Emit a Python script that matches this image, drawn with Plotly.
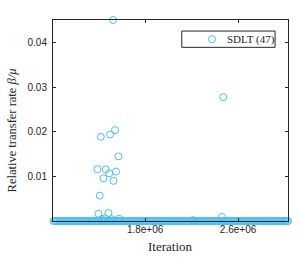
import plotly.graph_objects as go

series_name = "SDLT (47)"

# Baseline samples (iterations, in thousands) where the relative transfer rate is ~0
baseline_iter_k = [1010, 1022.5, 1035, 1047.5, 1060, 1072.5, 1085, 1097.5, 1110, 1122.5,
                   1135, 1147.5, 1160, 1172.5, 1185, 1197.5, 1210, 1222.5, 1235, 1247.5,
                   1260, 1272.5, 1285, 1297.5, 1310, 1322.5, 1335, 1347.5, 1360, 1372.5,
                   1385, 1397.5, 1410, 1422.5, 1435, 1447.5, 1460, 1472.5, 1485, 1497.5,
                   1510, 1522.5, 1535, 1547.5, 1560, 1572.5, 1585, 1597.5, 1610, 1622.5,
                   1635, 1647.5, 1660, 1672.5, 1685, 1697.5, 1710, 1722.5, 1735, 1747.5,
                   1760, 1772.5, 1785, 1797.5, 1810, 1822.5, 1835, 1847.5, 1860, 1872.5,
                   1885, 1897.5, 1910, 1922.5, 1935, 1947.5, 1960, 1972.5, 1985, 1997.5,
                   2010, 2022.5, 2035, 2047.5, 2060, 2072.5, 2085, 2097.5, 2110, 2122.5,
                   2135, 2147.5, 2160, 2172.5, 2185, 2197.5, 2210, 2222.5, 2235, 2247.5,
                   2260, 2272.5, 2285, 2297.5, 2310, 2322.5, 2335, 2347.5, 2360, 2372.5,
                   2385, 2397.5, 2410, 2422.5, 2435, 2447.5, 2460, 2472.5, 2485, 2497.5,
                   2510, 2522.5, 2535, 2547.5, 2560, 2572.5, 2585, 2597.5, 2610, 2622.5,
                   2635, 2647.5, 2660, 2672.5, 2685, 2697.5, 2710, 2722.5, 2735, 2747.5,
                   2760, 2772.5, 2785, 2797.5, 2810, 2822.5, 2835, 2847.5, 2860, 2872.5,
                   2885, 2897.5, 2910, 2922.5, 2935, 2947.5, 2960, 2972.5, 2985, 2997.5,
                   3010, 3020, 3030]
baseline_rate = [0.0] * len(baseline_iter_k)

# Non-zero events (iterations in thousands, rate)
event_iter_k = [1418, 1498, 1541, 1570, 1389, 1461, 1492, 1550, 1441, 1527,
                1410, 1398, 1484, 1524, 2473,
                1427, 1513, 1576, 2461, 2211, 1450]
event_rate = [0.0189, 0.0194, 0.0204, 0.0145, 0.0116, 0.0116, 0.0107, 0.0111,
              0.0096, 0.0090, 0.0057, 0.0016, 0.0018, 0.0451, 0.0278,
              0.0004, 0.0004, 0.0005, 0.0009, 0.0002, 0.0006]

x_tickvals = [1.8e6, 2.6e6]
x_ticktext = ["1.8e+06", "2.6e+06"]
y_tickvals = [0.01, 0.02, 0.03, 0.04]
y_ticktext = ["0.01", "0.02", "0.03", "0.04"]

xs = [v * 1000 for v in baseline_iter_k + event_iter_k]
ys = baseline_rate + event_rate

axis_color = "#262626"
marker_color = "#4DBEEE"
fig = go.Figure()
fig.add_trace(go.Scatter(
    x=xs, y=ys, mode="markers", name=series_name, showlegend=False,
    marker=dict(symbol="circle-open", size=7, color=marker_color,
                line=dict(width=1, color=marker_color)),
    cliponaxis=False,
))

# compact MATLAB-style legend box
fig.add_shape(type="rect", xref="paper", yref="paper",
              x0=0.548, x1=0.945, y0=0.864, y1=0.945,
              line=dict(color=axis_color, width=1), fillcolor="white", layer="above")
fig.add_shape(type="circle", xref="paper", yref="paper",
              xsizemode="pixel", ysizemode="pixel", xanchor=0.677, yanchor=0.9045,
              x0=-3.5, x1=3.5, y0=-3.5, y1=3.5,
              line=dict(color=marker_color, width=1), layer="above")
fig.add_annotation(text=series_name, xref="paper", yref="paper",
                   x=0.733, y=0.9045, xanchor="left", yanchor="middle",
                   showarrow=False,
                   font=dict(family="Liberation Serif", size=11, color=axis_color))

# axis titles
fig.add_annotation(text="Relative transfer rate <i>β/μ</i>", xref="paper", yref="paper",
                   x=-0.175, y=0.45, xanchor="center", yanchor="middle",
                   textangle=-90, showarrow=False,
                   font=dict(family="Liberation Serif", size=12.5, color=axis_color))
fig.add_annotation(text="Iteration", xref="paper", yref="paper",
                   x=0.5, y=-0.129, xanchor="center", yanchor="middle",
                   showarrow=False,
                   font=dict(family="Liberation Serif", size=13, color=axis_color))

fig.update_layout(
    width=299, height=257,
    margin=dict(l=53, r=11, t=20, b=36),
    paper_bgcolor="white", plot_bgcolor="white",
    showlegend=False,
    font=dict(family="Liberation Sans", size=10, color=axis_color),
)
fig.update_xaxes(
    range=[1.007e6, 3.03e6], tickvals=x_tickvals, ticktext=x_ticktext,
    showline=True, linecolor=axis_color, linewidth=1, mirror="ticks",
    ticks="inside", ticklen=3, tickcolor=axis_color, showgrid=False,
    zeroline=False, tickfont=dict(family="Liberation Sans", size=10),
    ticklabelstandoff=-1, automargin=False,
)
fig.update_yaxes(
    range=[0, 0.0451], tickvals=y_tickvals, ticktext=y_ticktext,
    showline=True, linecolor=axis_color, linewidth=1, mirror="ticks",
    ticks="inside", ticklen=3, tickcolor=axis_color, showgrid=False,
    zeroline=False, tickfont=dict(family="Liberation Sans", size=10),
    ticklabelstandoff=3, automargin=False,
)

fig.write_html("out.html", config={"displayModeBar": False},
               post_script="document.body.style.margin='0';document.body.style.overflow='hidden';")
